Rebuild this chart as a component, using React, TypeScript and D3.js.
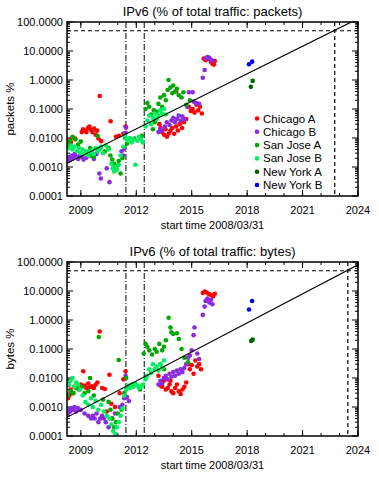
import React from "react";
import * as d3 from "d3";

type Pt = [number, number];

// ---------- data: packets ----------
const chicagoAPk: Pt[] = [
  [2008.30,0.0060],[2008.38,0.0085],[2008.46,0.0072],[2008.55,0.0105],[2008.70,0.0095],
  [2009.05,0.016],[2009.12,0.020],[2009.20,0.018],[2009.30,0.016],[2009.38,0.022],[2009.46,0.025],
  [2009.55,0.019],[2009.63,0.016],[2009.72,0.021],[2009.80,0.013],[2009.88,0.018],[2009.95,0.0096],
  [2010.02,0.28],[2010.10,0.0078],[2010.61,0.038],[2010.90,0.011],[2011.06,0.012],[2011.30,0.014],[2011.42,0.025],
  [2013.25,0.030],[2013.32,0.022],[2013.40,0.016],[2013.50,0.013],[2013.58,0.020],[2013.66,0.011],[2013.75,0.014],
  [2013.85,0.018],[2013.95,0.022],[2014.05,0.014],[2014.15,0.025],[2014.25,0.018],[2014.35,0.030],[2014.48,0.022],
  [2014.58,0.035],[2014.70,0.045],[2014.15,0.40],
  [2014.85,0.12],[2014.95,0.085],[2015.05,0.10],[2015.15,0.075],[2015.25,0.14],[2015.35,0.09],[2015.45,0.12],[2015.55,0.07],
  [2015.65,5.5],[2015.75,4.8],[2015.85,6.0],[2015.95,5.2],[2016.05,4.2],[2016.12,3.6],[2016.20,3.4],[2016.25,4.5],
];
const chicagoBPk: Pt[] = [
  [2008.30,0.0016],[2008.36,0.0022],[2008.42,0.0018],[2008.50,0.0025],[2008.58,0.0020],[2008.66,0.0028],
  [2008.75,0.0023],[2008.85,0.0019],[2008.95,0.0025],[2009.05,0.0022],[2009.15,0.0018],[2009.30,0.0021],
  [2009.55,0.0024],[2009.70,0.0019],[2009.85,0.0028],[2010.00,0.0006],[2010.08,0.0004],[2010.55,0.0003],
  [2010.40,0.0009],[2011.20,0.0035],[2011.28,0.0025],[2011.35,0.0042],[2011.42,0.015],[2011.45,0.023],
  [2013.20,0.016],[2013.30,0.020],[2013.40,0.018],[2013.55,0.025],[2013.65,0.035],[2013.80,0.028],[2013.90,0.040],
  [2014.00,0.050],[2014.10,0.035],[2014.20,0.045],[2014.30,0.060],[2014.40,0.040],[2014.50,0.055],[2014.60,0.045],
  [2014.75,0.12],[2014.85,0.38],[2015.05,0.38],[2015.10,0.18],[2015.25,0.16],[2015.40,0.15],
  [2015.60,1.2],[2015.70,2.2],[2015.75,5.5],[2015.85,6.2],[2015.95,5.8],[2016.05,5.0],[2016.12,4.6],
];
const sanJoseAPk: Pt[] = [
  [2008.30,0.0065],[2008.40,0.0080],[2008.55,0.0110],[2008.70,0.0090],[2008.85,0.0060],[2009.00,0.0075],
  [2009.50,0.0045],[2009.60,0.0025],[2009.70,0.0022],[2009.90,0.012],[2010.05,0.0045],[2010.30,0.0035],
  [2010.50,0.0045],[2010.60,0.0025],[2010.70,0.0018],[2010.80,0.0013],[2010.85,0.0008],[2010.95,0.0011],
  [2011.05,0.0016],[2011.15,0.0006],[2011.25,0.0020],[2011.40,0.010],[2011.50,0.0065],[2011.90,0.0095],
  [2012.30,0.012],[2012.50,0.10],[2012.60,0.16],[2012.70,0.12],[2012.80,0.065],[2012.95,0.09],[2013.10,0.08],
  [2013.20,0.15],[2013.30,0.25],[2013.40,0.12],[2013.50,0.30],[2013.60,0.20],[2013.70,0.45],[2013.75,1.0],
  [2013.85,0.55],[2013.95,0.35],[2014.00,0.65],[2014.10,0.40],[2014.20,0.50],[2014.30,0.30],[2014.45,0.25],
  [2014.55,0.38],[2014.70,0.14],[2014.90,0.20],[2013.00,0.035],[2012.90,0.020],
];
const sanJoseBPk: Pt[] = [
  [2008.35,0.0045],[2008.45,0.0055],[2008.55,0.0040],[2008.65,0.0050],[2008.80,0.0035],[2008.90,0.0045],
  [2009.00,0.0030],[2009.10,0.0040],[2009.20,0.0028],[2009.30,0.0035],[2009.40,0.0025],[2009.50,0.0032],
  [2009.60,0.0038],[2009.70,0.0028],[2009.80,0.0045],[2009.90,0.0035],[2010.00,0.0040],[2010.10,0.0050],
  [2010.20,0.0030],[2010.35,0.0055],[2010.50,0.0040],[2010.65,0.0013],[2010.72,0.0009],[2010.80,0.0007],
  [2010.88,0.0010],[2010.95,0.0008],[2011.05,0.0012],[2011.15,0.0025],[2011.30,0.0050],[2011.38,0.012],
  [2011.48,0.009],[2011.55,0.008],[2011.65,0.010],[2011.75,0.007],[2011.85,0.009],[2011.95,0.0012],
  [2012.05,0.008],[2012.15,0.011],[2012.25,0.009],[2012.35,0.007],[2012.50,0.025],[2012.60,0.040],
  [2012.70,0.060],[2012.80,0.030],[2012.90,0.050],[2013.00,0.070],[2013.10,0.045],[2013.20,0.060],
  [2013.30,0.090],[2013.40,0.070],[2013.50,0.10],[2013.60,0.065],
];
const newYorkAPk: Pt[] = [[2018.20,0.58],[2018.30,0.93]];
const newYorkBPk: Pt[] = [[2018.10,3.5],[2018.27,4.3]];

// ---------- data: bytes ----------
const chicagoABy: Pt[] = [
  [2008.30,0.0020],[2008.38,0.0025],[2008.45,0.0040],[2008.55,0.0030],[2008.65,0.0050],[2008.80,0.0045],
  [2009.00,0.0060],[2009.13,0.017],[2009.20,0.0055],[2009.30,0.0045],[2009.40,0.0065],[2009.50,0.0048],
  [2009.60,0.0052],[2009.70,0.0045],[2009.80,0.0058],[2009.90,0.0070],[2010.02,0.40],[2010.15,0.0045],
  [2010.30,0.0042],[2010.40,0.0007],[2010.55,0.013],[2010.65,0.0013],[2010.85,0.0010],[2011.10,0.0030],
  [2011.30,0.009],[2011.42,0.017],
  [2013.20,0.012],[2013.30,0.0055],[2013.40,0.0050],[2013.50,0.0080],[2013.60,0.0040],[2013.70,0.0045],
  [2013.80,0.0060],[2013.90,0.0035],[2014.00,0.0030],[2014.10,0.0045],[2014.20,0.0060],[2014.30,0.0035],
  [2014.40,0.0028],[2014.50,0.0040],[2014.60,0.0050],[2014.70,0.0070],[2014.80,0.030],[2014.90,0.020],
  [2015.00,0.028],[2015.10,0.014],[2015.20,0.040],[2015.30,0.025],[2015.40,0.030],[2015.50,0.020],[2013.85,0.008],
  [2015.60,8.5],[2015.70,9.5],[2015.80,9.0],[2015.90,8.0],[2016.00,7.5],[2016.10,7.0],[2016.15,6.5],[2016.25,8.0],
];
const chicagoBBy: Pt[] = [
  [2008.30,0.0006],[2008.36,0.0008],[2008.42,0.0007],[2008.50,0.0009],[2008.58,0.0008],[2008.66,0.0010],
  [2008.75,0.0007],[2008.85,0.0009],[2009.00,0.0008],[2009.20,0.0006],[2009.40,0.0005],[2009.55,0.0004],
  [2009.65,0.0005],[2009.75,0.0004],[2009.85,0.0006],[2009.95,0.0003],[2010.05,0.0004],[2010.15,0.0005],
  [2010.25,0.0004],[2010.35,0.0003],[2010.50,0.0002],[2010.70,0.0004],[2010.85,0.0006],[2011.10,0.0010],
  [2011.25,0.0012],[2011.35,0.0020],[2011.42,0.012],[2011.50,0.0022],[2011.60,0.0016],
  [2013.20,0.006],[2013.30,0.008],[2013.40,0.0065],[2013.50,0.010],[2013.60,0.012],[2013.70,0.009],
  [2013.80,0.014],[2013.90,0.011],[2014.00,0.016],[2014.10,0.012],[2014.20,0.018],[2014.30,0.014],
  [2014.40,0.020],[2014.50,0.016],[2014.60,0.022],[2014.70,0.030],[2014.80,0.050],[2014.90,0.060],
  [2015.00,0.090],[2015.10,0.30],[2015.15,0.55],[2015.30,0.070],[2015.40,0.045],
  [2015.60,1.5],[2015.70,2.9],[2015.75,4.5],[2015.85,5.5],[2015.95,4.0],[2016.05,5.0],[2016.12,3.5],
];
const sanJoseABy: Pt[] = [
  [2008.30,0.0025],[2008.45,0.0035],[2008.60,0.0030],[2008.75,0.0045],[2008.90,0.0040],[2009.05,0.0050],
  [2009.20,0.0030],[2009.40,0.0035],[2009.50,0.010],[2009.70,0.0025],[2009.97,0.26],[2010.20,0.0018],
  [2010.50,0.0015],[2010.60,0.0008],[2010.70,0.0004],[2010.80,0.0002],[2010.90,0.0003],[2011.00,0.0006],
  [2011.05,0.042],[2011.20,0.0008],[2011.35,0.0030],[2011.45,0.010],[2011.60,0.0050],[2011.80,0.0060],
  [2012.20,0.0040],[2012.40,0.070],[2012.50,0.15],[2012.60,0.12],[2012.70,0.090],[2012.85,0.065],
  [2013.00,0.10],[2013.10,0.080],[2013.25,0.15],[2013.40,0.090],[2013.50,0.12],[2013.60,0.20],
  [2013.75,1.2],[2013.85,0.55],[2013.90,0.38],[2014.00,0.33],[2014.20,0.35],[2014.30,0.22],
  [2014.45,0.10],[2014.60,0.050],[2014.80,0.035],[2013.30,0.030],[2013.50,0.020],
];
const sanJoseBBy: Pt[] = [
  [2008.35,0.0060],[2008.45,0.0080],[2008.55,0.010],[2008.65,0.0050],[2008.75,0.0070],[2008.85,0.0060],
  [2008.95,0.0040],[2009.10,0.0025],[2009.25,0.0015],[2009.40,0.0012],[2009.55,0.0020],[2009.65,0.0010],
  [2009.80,0.0016],[2009.95,0.0008],[2010.10,0.0012],[2010.25,0.0007],[2010.40,0.0005],[2010.55,0.0004],
  [2010.65,0.00025],[2010.75,0.00015],[2010.85,0.00012],[2010.95,0.0002],[2011.05,0.0003],[2011.15,0.0005],
  [2011.25,0.0009],[2011.35,0.0025],[2011.45,0.0040],[2011.55,0.0055],[2011.65,0.0045],[2011.75,0.0060],
  [2011.85,0.0050],[2011.95,0.0065],[2012.05,0.0055],[2012.15,0.0045],[2012.25,0.0050],[2012.35,0.0060],
  [2012.50,0.0090],[2012.60,0.012],[2012.70,0.020],[2012.80,0.015],[2012.90,0.030],[2013.00,0.020],
  [2013.10,0.025],[2013.20,0.018],[2013.30,0.030],[2013.40,0.022],[2013.50,0.040],
];
const newYorkABy: Pt[] = [[2018.22,0.19],[2018.30,0.21]];
const newYorkBBy: Pt[] = [[2018.10,2.3],[2018.27,4.5]];

// ---------- series, fits, markers ----------
const seriesNames = ["Chicago A", "Chicago B", "San Jose A", "San Jose B", "New York A", "New York B"];
const seriesColors = ["#ff0000", "#8a2be2", "#00a800", "#00f060", "#006400", "#0000ff"];
const packetSeries = [chicagoAPk, chicagoBPk, sanJoseAPk, sanJoseBPk, newYorkAPk, newYorkBPk];
const byteSeries = [chicagoABy, chicagoBBy, sanJoseABy, sanJoseBBy, newYorkABy, newYorkBBy];

const fitPackets: Pt[] = [[2008.25, 0.00134], [2024.0, 130]];
const fitBytes: Pt[] = [[2008.25, 0.00044], [2024.0, 80]];
const halfLevel = 50;
const crossPackets = 2022.74;
const crossBytes = 2023.45;
const ipv6Days = [2011.44, 2012.43];

const xDomain: [number, number] = [2008.25, 2024.0];
const yDomain: [number, number] = [0.0001, 100];
const xMajorTicks = [2009, 2012, 2015, 2018, 2021, 2024];
const xMinorTicks = [2009, 2010, 2011, 2012, 2013, 2014, 2015, 2016, 2017, 2018, 2019, 2020, 2021, 2022, 2023, 2024];
const yMajorTicks = [0.0001, 0.001, 0.01, 0.1, 1, 10, 100];

const FONT = "'Liberation Sans', Arial, Helvetica, sans-serif";
const W = 379, H = 480;
const L = 67, R = 358;

function Panel({ top, title, ylabel, series, fit, cross, legend, id }:
  { top: number; title: string; ylabel: string; series: Pt[][]; fit: Pt[]; cross: number; legend: boolean; id: string }) {
  const bottom = top + 174;
  const x = d3.scaleLinear().domain(xDomain).range([L, R]);
  const y = d3.scaleLog().domain(yDomain).range([bottom, top]);
  const fmt = d3.format(".4f");
  const minorY: number[] = [];
  for (let e = -4; e < 2; e++) for (let m = 2; m <= 9; m++) minorY.push(m * Math.pow(10, e));
  const line = d3.line<Pt>().x(d => x(d[0])).y(d => y(d[1]));
  const midY = (top + bottom) / 2;
  return (
    <g>
      <defs>
        <clipPath id={id}><rect x={L} y={top} width={R - L} height={bottom - top} /></clipPath>
      </defs>
      <text x={(L + R) / 2} y={top - 6} textAnchor="middle" fontSize={13} fontFamily={FONT}>{title}</text>
      <text transform={`translate(14,${midY}) rotate(-90)`} textAnchor="middle" fontSize={11.5} fontFamily={FONT}>{ylabel}</text>
      {/* x ticks */}
      {xMinorTicks.map(t => (
        <g key={"xm" + t}>
          <line x1={x(t)} x2={x(t)} y1={bottom} y2={bottom - 3} stroke="#000" />
          <line x1={x(t)} x2={x(t)} y1={top} y2={top + 3} stroke="#000" />
        </g>
      ))}
      {xMajorTicks.map(t => (
        <g key={"xM" + t}>
          <line x1={x(t)} x2={x(t)} y1={bottom} y2={bottom - 6} stroke="#000" />
          <line x1={x(t)} x2={x(t)} y1={top} y2={top + 6} stroke="#000" />
          <text x={x(t)} y={bottom + 18} textAnchor="middle" fontSize={11} fontFamily={FONT}>{t}</text>
        </g>
      ))}
      {/* y ticks */}
      {minorY.map((t, i) => (
        <g key={"ym" + i}>
          <line x1={L} x2={L + 3} y1={y(t)} y2={y(t)} stroke="#000" />
          <line x1={R} x2={R - 3} y1={y(t)} y2={y(t)} stroke="#000" />
        </g>
      ))}
      {yMajorTicks.map(t => (
        <g key={"yM" + t}>
          <line x1={L} x2={L + 6} y1={y(t)} y2={y(t)} stroke="#000" />
          <line x1={R} x2={R - 6} y1={y(t)} y2={y(t)} stroke="#000" />
          <text x={L - 4} y={y(t) + 4} textAnchor="end" fontSize={11} fontFamily={FONT}>{fmt(t)}</text>
        </g>
      ))}
      <text x={(L + R) / 2} y={bottom + 33} textAnchor="middle" fontSize={11} fontFamily={FONT}>start time 2008/03/31</text>
      {/* reference lines */}
      {ipv6Days.map(d => (
        <line key={"d" + d} x1={x(d)} x2={x(d)} y1={top} y2={bottom} stroke="#000" strokeWidth={1} strokeDasharray="6,2,1,2" />
      ))}
      <line x1={L} x2={R} y1={y(halfLevel)} y2={y(halfLevel)} stroke="#000" strokeWidth={1.2} strokeDasharray="4,3" />
      <line x1={x(cross)} x2={x(cross)} y1={top} y2={bottom} stroke="#000" strokeWidth={1.2} strokeDasharray="4,3" />
      {/* points */}
      <g clipPath={`url(#${id})`}>
        {series.map((s, si) => s.map((p, pi) => (
          <circle key={si + "-" + pi} cx={x(p[0])} cy={y(p[1])} r={2.3} fill={seriesColors[si]} />
        )))}
        <path d={line(fit) || ""} fill="none" stroke="#000" strokeWidth={1.2} />
      </g>
      <rect x={L} y={top} width={R - L} height={bottom - top} fill="none" stroke="#000" strokeWidth={1.5} />
      {legend && seriesNames.map((n, i) => (
        <g key={n}>
          <circle cx={257} cy={top + 96.5 + i * 13.3} r={2.3} fill={seriesColors[i]} />
          <text x={263} y={top + 100.5 + i * 13.3} fontSize={11.5} fontFamily={FONT}>{n}</text>
        </g>
      ))}
    </g>
  );
}

export default function App() {
  return (
    <svg width={W} height={H} style={{ position: "absolute", left: 0, top: 0, background: "#fff" }}>
      <rect width={W} height={H} fill="#fff" />
      <Panel top={22} title="IPv6 (% of total traffic: packets)" ylabel="packets %" series={packetSeries}
        fit={fitPackets} cross={crossPackets} legend={true} id="clipA" />
      <Panel top={262} title="IPv6 (% of total traffic: bytes)" ylabel="bytes %" series={byteSeries}
        fit={fitBytes} cross={crossBytes} legend={false} id="clipB" />
    </svg>
  );
}
